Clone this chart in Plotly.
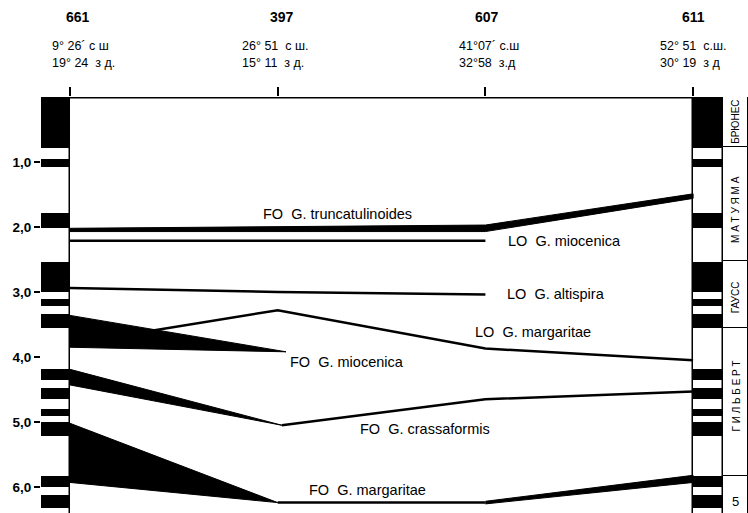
import plotly.graph_objects as go

# ---------------- data ----------------
SITES = ["661", "397", "607", "611"]
SITE_X = [0, 1, 2, 3]
COORD_N = ["9° 26´ с ш", "26° 51  с ш.", "41°07´ с.ш", "52° 51  с.ш."]
COORD_E = ["19° 24  з д.", "15° 11  з д.", "32°58  з.д", "30° 19  з д"]

AGE_TICKS = [1, 2, 3, 4, 5, 6]
AGE_TICK_TEXT = ["1,0", "2,0", "3,0", "4,0", "5,0", "6,0"]

# normal polarity (black) intervals, Ma
NORMAL_TOP = [0.0, 0.96, 1.78, 2.54, 3.10, 3.34, 4.18, 4.48, 4.80, 5.00, 5.83, 6.13]
NORMAL_BOT = [0.79, 1.07, 2.02, 3.00, 3.22, 3.56, 4.36, 4.65, 4.90, 5.22, 6.00, 6.33]

CHRONS = ["БРЮНЕС", "М А Т У Я М А", "ГАУСС", "Г И Л Ь Б Е Р Т", "5"]
CHRON_BOUNDS = [0.0, 0.77, 2.53, 3.56, 5.83, 6.6]
CHRON_LABEL_AGE = [0.39, 1.73, 3.09, 4.6, 6.23]

# events (ages in Ma at sites 661, 397, 607, 611)
TRUNC_FO_TOP = [2.02, 2.00, 1.97, 1.49]
TRUNC_FO_BOT = [2.07, 2.07, 2.07, 1.56]
MIOC_LO = [2.21, 2.21, 2.21]
ALTI_LO = [2.94, 3.00, 3.04]
MARG_LO = [3.80, 3.28, 3.87, 4.05]
MIOC_FO_X = [0, 1.04, 0]
MIOC_FO_AGE = [3.36, 3.92, 3.85]
CRASS_FO_WEDGE_X = [0, 1.02, 0]
CRASS_FO_WEDGE_AGE = [4.19, 5.05, 4.43]
CRASS_FO_LINE_X = [1.02, 2, 3]
CRASS_FO_LINE_AGE = [5.05, 4.65, 4.53]
MARG_FO_WEDGE_X = [0, 1.0, 0]
MARG_FO_WEDGE_AGE = [5.02, 6.24, 5.93]
MARG_FO_LINE_X = [1.0, 2]
MARG_FO_LINE_AGE = [6.24, 6.24]
MARG_FO_WEDGE2_X = [2, 3, 3, 2]
MARG_FO_WEDGE2_AGE = [6.22, 5.82, 5.93, 6.26]

EVENT_LABELS = ["FO  G. truncatulinoides", "LO  G. miocenica", "LO  G. altispira",
                "LO  G. margaritae", "FO  G. miocenica", "FO  G. crassaformis",
                "FO  G. margaritae"]
LABEL_X = [1.29, 2.10, 2.094, 1.94, 1.05, 1.387, 1.141]
LABEL_AGE = [1.80, 2.22, 3.03, 3.62, 4.08, 5.11, 6.04]
LABEL_ANCHOR = ["center", "left", "left", "left", "left", "left", "left"]


def nb(s):
    return s.replace("  ", "\u00a0 ")


FONT = "Liberation Sans, Arial, sans-serif"
X_MIN, X_MAX = -0.1396, 3.2643
Y_MAX = 6.4

fig = go.Figure()

# ---- polarity columns ----
LEFT_COL_X, LEFT_COL_W = -0.0698, 0.1396
RIGHT_COL_X, RIGHT_COL_W = 3.072, 0.144
CHRON_COL_X, CHRON_COL_W = 3.2042, 0.1202

for cx, cw in [(LEFT_COL_X, LEFT_COL_W), (RIGHT_COL_X, RIGHT_COL_W)]:
    fig.add_trace(go.Bar(x=[cx], base=[0], y=[6.6], width=cw,
                         marker=dict(color="white", line=dict(color="black", width=1.5)),
                         hoverinfo="skip", showlegend=False))
    fig.add_trace(go.Bar(x=[cx] * len(NORMAL_TOP), base=NORMAL_TOP,
                         y=[b - t for t, b in zip(NORMAL_TOP, NORMAL_BOT)], width=cw,
                         marker=dict(color="black", line=dict(width=0)),
                         hoverinfo="skip", showlegend=False))

fig.add_trace(go.Bar(x=[CHRON_COL_X] * len(CHRONS), base=CHRON_BOUNDS[:-1],
                     y=[CHRON_BOUNDS[i + 1] - CHRON_BOUNDS[i] for i in range(len(CHRONS))],
                     width=CHRON_COL_W,
                     marker=dict(color="white", line=dict(color="black", width=1)),
                     hoverinfo="skip", showlegend=False))

# ---- top line ----
fig.add_trace(go.Scatter(x=[SITE_X[0], SITE_X[-1]], y=[0.01, 0.01], mode="lines",
                         line=dict(color="black", width=1.5), showlegend=False, hoverinfo="skip"))

LINE = dict(color="black", width=2.5)
POLY = dict(color="black", width=1)

# truncatulinoides band
fig.add_trace(go.Scatter(x=SITE_X + SITE_X[::-1], y=TRUNC_FO_TOP + TRUNC_FO_BOT[::-1],
                         fill="toself", fillcolor="black", mode="lines", line=POLY,
                         showlegend=False, hoverinfo="skip"))
fig.add_trace(go.Scatter(x=SITE_X[:3], y=MIOC_LO, mode="lines", line=LINE,
                         showlegend=False, hoverinfo="skip"))
fig.add_trace(go.Scatter(x=SITE_X[:3], y=ALTI_LO, mode="lines", line=LINE,
                         showlegend=False, hoverinfo="skip"))
fig.add_trace(go.Scatter(x=SITE_X, y=MARG_LO, mode="lines", line=LINE,
                         showlegend=False, hoverinfo="skip"))
for wx, wy in [(MIOC_FO_X, MIOC_FO_AGE), (CRASS_FO_WEDGE_X, CRASS_FO_WEDGE_AGE),
               (MARG_FO_WEDGE_X, MARG_FO_WEDGE_AGE), (MARG_FO_WEDGE2_X, MARG_FO_WEDGE2_AGE)]:
    fig.add_trace(go.Scatter(x=wx, y=wy, fill="toself", fillcolor="black", mode="lines",
                             line=POLY, showlegend=False, hoverinfo="skip"))
fig.add_trace(go.Scatter(x=CRASS_FO_LINE_X, y=CRASS_FO_LINE_AGE, mode="lines", line=LINE,
                         showlegend=False, hoverinfo="skip"))
fig.add_trace(go.Scatter(x=MARG_FO_LINE_X, y=MARG_FO_LINE_AGE, mode="lines", line=LINE,
                         showlegend=False, hoverinfo="skip"))

ann = []
for txt, lx, ly, anc in zip(EVENT_LABELS, LABEL_X, LABEL_AGE, LABEL_ANCHOR):
    ann.append(dict(x=lx, y=ly, xref="x", yref="y", text=nb(txt), showarrow=False,
                    xanchor=anc, yanchor="middle", font=dict(family=FONT, size=14.5, color="black")))


def py(pix):
    return (513 - pix) / 416


SITE_LABEL_X = [0.04, 0.02, 0.01, 0.0]
COORD_X = [-0.096, 0.82, 1.863, 2.831]
for i, s in enumerate(SITES):
    ann.append(dict(x=SITE_X[i] + SITE_LABEL_X[i], y=py(17), xref="x", yref="paper", text=f"<b>{s}</b>",
                    showarrow=False, xanchor="center", yanchor="middle",
                    font=dict(family=FONT, size=14, color="black")))
    ann.append(dict(x=COORD_X[i], y=py(46), xref="x", yref="paper", text=nb(COORD_N[i]),
                    showarrow=False, xanchor="left", yanchor="middle",
                    font=dict(family=FONT, size=12.5, color="black")))
    ann.append(dict(x=COORD_X[i], y=py(63), xref="x", yref="paper", text=nb(COORD_E[i]),
                    showarrow=False, xanchor="left", yanchor="middle",
                    font=dict(family=FONT, size=12.5, color="black")))

for name, age in zip(CHRONS, CHRON_LABEL_AGE):
    rot = -90 if len(name) > 1 else 0
    ann.append(dict(x=CHRON_COL_X, y=age, xref="x", yref="y", text=name, showarrow=False,
                    textangle=rot, xanchor="center", yanchor="middle",
                    font=dict(family=FONT, size=10 if rot else 13, color="black")))

fig.update_layout(
    width=748, height=513,
    margin=dict(l=41, r=0, t=97, b=0, pad=0, autoexpand=False),
    paper_bgcolor="white", plot_bgcolor="white",
    barmode="overlay", bargap=0,
    annotations=ann,
    xaxis=dict(range=[X_MIN, X_MAX], side="top", showgrid=False, zeroline=False,
               showline=False, ticks="outside", ticklen=9, tickwidth=1.5, tickcolor="black",
               tickvals=SITE_X, showticklabels=False, fixedrange=True, automargin=False),
    yaxis=dict(range=[Y_MAX, 0], showgrid=False, zeroline=False, showline=False,
               ticks="outside", ticklen=6, tickwidth=1.5, tickcolor="black",
               tickvals=AGE_TICKS, ticktext=AGE_TICK_TEXT,
               tickfont=dict(family=FONT, size=13.5, color="black", weight="bold"),
               fixedrange=True, automargin=False),
)

fig.write_html("out.html", config={"displayModeBar": False},
               post_script="document.body.style.margin='0';document.body.style.overflow='hidden';")
